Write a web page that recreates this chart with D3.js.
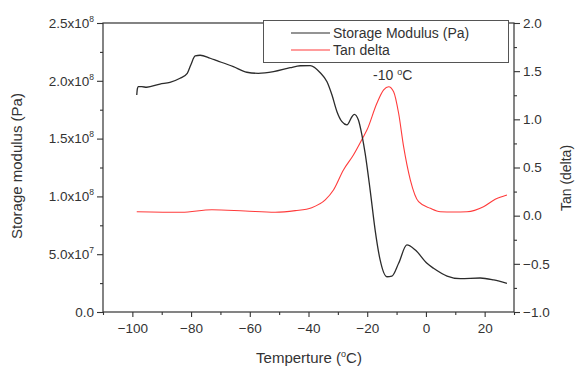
<!DOCTYPE html>
<html>
<head>
<meta charset="utf-8">
<script src="https://cdn.jsdelivr.net/npm/d3@7"></script>
<style>
  body { margin: 0; background: #fff; }
  svg { display: block; font-family: "Liberation Sans", Arial, sans-serif; }
</style>
</head>
<body>
<svg id="chart" width="579" height="368"></svg>
<script>
// storage modulus curve (Pa)
const tempModulus = [-98.5, -98.3, -98.0, -96.8, -95.1, -90.6, -87.2, -83.75, -81.3, -80.1, -78.6, -76.9,
  -73.5, -71.2, -65.6, -61.0, -57.1, -51.9, -46.25, -42.8, -39.4, -36.0, -33.7, -32.0, -30.3, -28.6,
  -26.9, -25.2, -24.4, -23.0, -21.8, -20.7, -19.0, -17.3, -15.6, -13.3, -11.6, -9.3, -6.5, -3.6, 0.35,
  2.6, 7.2, 11.7, 18.5, 23.1, 27.6];
const modulus = [1.877e8, 1.93e8, 1.949e8, 1.949e8, 1.944e8, 1.972e8, 1.987e8, 2.022e8, 2.065e8, 2.137e8,
  2.215e8, 2.221e8, 2.195e8, 2.174e8, 2.122e8, 2.074e8, 2.065e8, 2.079e8, 2.113e8, 2.13e8, 2.132e8,
  2.07e8, 1.992e8, 1.877e8, 1.733e8, 1.646e8, 1.618e8, 1.689e8, 1.71e8, 1.661e8, 1.531e8, 1.373e8,
  1.055e8, 0.709e8, 0.45e8, 0.305e8, 0.31e8, 0.421e8, 0.58e8, 0.536e8, 0.421e8, 0.378e8, 0.311e8,
  0.288e8, 0.294e8, 0.277e8, 0.248e8];

// tan delta curve
const tempTan = [-98.5, -83.2, -72.9, -61.6, -51.4, -44.5, -38.9, -34.3, -31.5, -28.1, -24.7, -21.3,
  -20.1, -16.7, -14.4, -12.7, -11.0, -9.3, -7.6, -5.3, -2.5, 1.5, 4.9, 9.4, 14.0, 19.6, 23.6, 27.6];
const tanDelta = [0.041, 0.035, 0.062, 0.048, 0.035, 0.052, 0.083, 0.163, 0.266, 0.474, 0.63, 0.82,
  0.889, 1.167, 1.305, 1.339, 1.287, 1.063, 0.716, 0.37, 0.145, 0.076, 0.041, 0.038, 0.041, 0.093,
  0.17, 0.215];

const xTicks = [-100, -80, -60, -40, -20, 0, 20];
const xMinor = [-110, -90, -70, -50, -30, -10, 10, 30];
const leftTicks = [0, 5e7, 1e8, 1.5e8, 2e8, 2.5e8];
const leftMinor = [2.5e7, 7.5e7, 1.25e8, 1.75e8, 2.25e8];
const rightTicks = [-1.0, -0.5, 0.0, 0.5, 1.0, 1.5, 2.0];
const rightMinor = [-0.75, -0.25, 0.25, 0.75, 1.25, 1.75];

(function () {
  const svg = d3.select("#chart");
  const left = 103, right = 514, top = 23, bottom = 312;
  const ink = "#333";

  const x = d3.scaleLinear().domain([-110, 30]).range([left, right]);
  const yL = d3.scaleLinear().domain([0, 2.5e8]).range([bottom, top]);
  const yR = d3.scaleLinear().domain([-1, 2]).range([bottom, top]);

  function styleAxis(g) {
    g.select(".domain").remove();
    g.selectAll(".tick line").attr("stroke", ink).attr("stroke-width", 1.1);
    g.selectAll(".tick text").attr("fill", ink).style("font-size", "13.5px");
  }

  // major + minor ticks
  svg.append("g").attr("transform", `translate(0,${bottom})`)
    .call(d3.axisBottom(x).tickValues(xTicks).tickSize(5).tickPadding(6).tickFormat(d3.format("d")))
    .call(styleAxis);
  svg.append("g").attr("transform", `translate(0,${bottom})`)
    .call(d3.axisBottom(x).tickValues(xMinor).tickSize(3).tickFormat(""))
    .call(styleAxis);

  const gl = svg.append("g").attr("transform", `translate(${left},0)`)
    .call(d3.axisLeft(yL).tickValues(leftTicks).tickSize(6).tickPadding(3))
    .call(styleAxis);
  svg.append("g").attr("transform", `translate(${left},0)`)
    .call(d3.axisLeft(yL).tickValues(leftMinor).tickSize(3).tickFormat(""))
    .call(styleAxis);

  // 2.5x10^8 style labels
  gl.selectAll(".tick text").each(function (d) {
    const t = d3.select(this).text(null);
    if (d === 0) { t.text("0.0"); return; }
    const e = Math.floor(Math.log10(d));
    t.append("tspan").text((d / Math.pow(10, e)).toFixed(1) + "x10");
    t.append("tspan").attr("dy", -6).style("font-size", "8.5px").text(e);
  });

  svg.append("g").attr("transform", `translate(${right},0)`)
    .call(d3.axisRight(yR).tickValues(rightTicks).tickSize(6).tickPadding(3).tickFormat(d3.format(".1f")))
    .call(styleAxis);
  svg.append("g").attr("transform", `translate(${right},0)`)
    .call(d3.axisRight(yR).tickValues(rightMinor).tickSize(3).tickFormat(""))
    .call(styleAxis);

  // frame
  svg.append("rect")
    .attr("x", left).attr("y", top)
    .attr("width", right - left).attr("height", bottom - top)
    .attr("fill", "none").attr("stroke", ink).attr("stroke-width", 1.2);

  // curves
  const lineMod = d3.line()
    .x((d, i) => x(tempModulus[i]))
    .y(d => yL(d))
    .curve(d3.curveMonotoneX);
  const lineTan = d3.line()
    .x((d, i) => x(tempTan[i]))
    .y(d => yR(d))
    .curve(d3.curveMonotoneX);

  svg.append("path").attr("d", lineTan(tanDelta))
    .attr("fill", "none").attr("stroke", "#ff3b3b").attr("stroke-width", 1.1);
  svg.append("path").attr("d", lineMod(modulus))
    .attr("fill", "none").attr("stroke", "#2b2b2b").attr("stroke-width", 1.3);

  // legend
  const lg = svg.append("g");
  lg.append("rect").attr("x", 263.5).attr("y", 20.5).attr("width", 245).attr("height", 42)
    .attr("fill", "#fff").attr("stroke", "#555").attr("stroke-width", 1);
  [["Storage Modulus (Pa)", "#2b2b2b", 33], ["Tan delta", "#ff3b3b", 50]].forEach(([label, c, yy]) => {
    lg.append("line").attr("x1", 291).attr("x2", 330).attr("y1", yy).attr("y2", yy)
      .attr("stroke", c).attr("stroke-width", 1.1);
    lg.append("text").attr("x", 333).attr("y", yy + 5).attr("fill", ink)
      .style("font-size", "14px").text(label);
  });

  // peak annotation
  const ann = svg.append("text").attr("x", 373).attr("y", 80).attr("fill", ink).style("font-size", "14px");
  ann.append("tspan").text("-10 ");
  ann.append("tspan").attr("dy", -5).style("font-size", "9px").text("o");
  ann.append("tspan").attr("dy", 5).text("C");

  // axis titles
  svg.append("text")
    .attr("transform", "translate(22,166) rotate(-90)")
    .attr("text-anchor", "middle").attr("fill", ink).style("font-size", "15px")
    .text("Storage modulus (Pa)");
  svg.append("text")
    .attr("transform", "translate(571,178) rotate(-90)")
    .attr("text-anchor", "middle").attr("fill", ink).style("font-size", "14px")
    .text("Tan (delta)");
  const xt = svg.append("text").attr("x", 309).attr("y", 363)
    .attr("text-anchor", "middle").attr("fill", ink).style("font-size", "15px");
  xt.append("tspan").text("Temperture (");
  xt.append("tspan").attr("dy", -6).style("font-size", "9px").text("o");
  xt.append("tspan").attr("dy", 6).text("C)");
})();
</script>
</body>
</html>
